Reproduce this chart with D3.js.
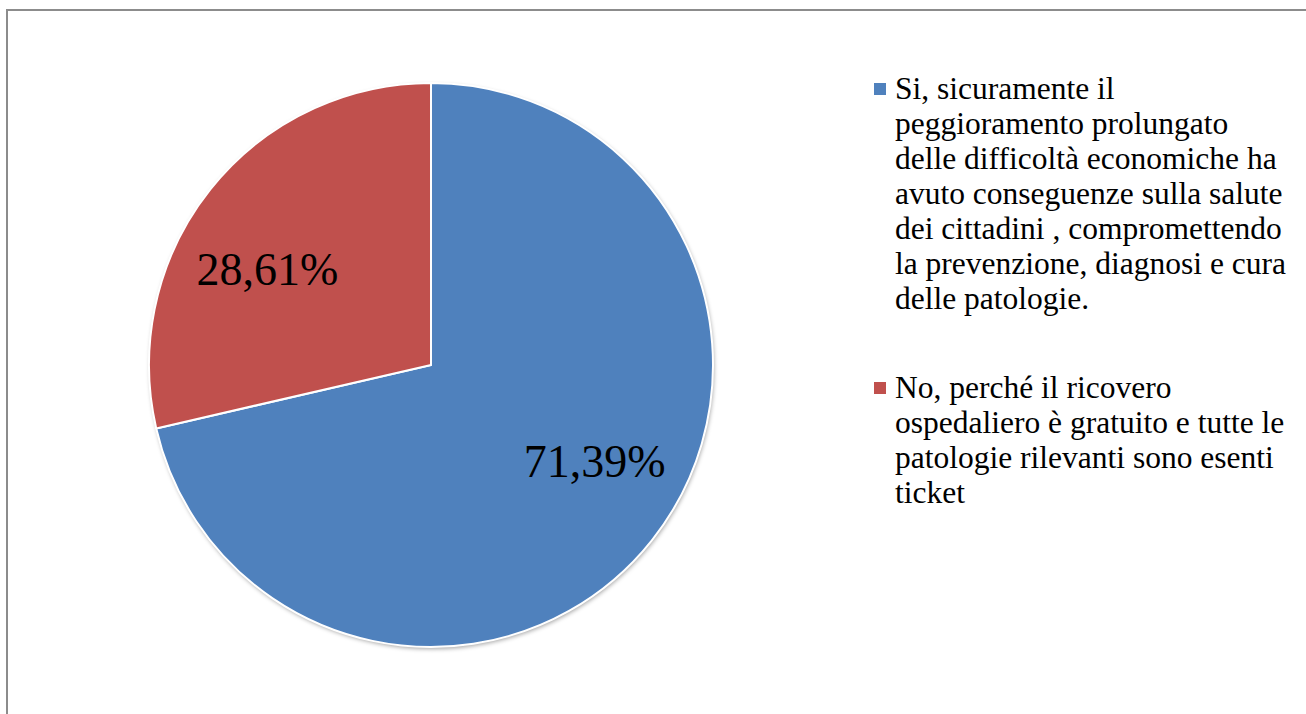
<!DOCTYPE html>
<html>
<head>
<meta charset="utf-8">
<script src="https://cdn.jsdelivr.net/npm/d3@7"></script>
<style>
  body { margin: 0; background: #fff; }
</style>
</head>
<body>
<script>
// risposte e percentuali
var categories = [
    "Si, sicuramente il peggioramento prolungato delle difficoltà economiche ha avuto conseguenze sulla salute dei cittadini , compromettendo la prevenzione, diagnosi e cura delle patologie.",
    "No, perché il ricovero ospedaliero è gratuito e tutte le patologie rilevanti sono esenti ticket"
];
var values = [71.39, 28.61];
var valueLabels = ["71,39%", "28,61%"];
var colors = ["#4f81bd", "#c0504d"];

var width = 1306,
    height = 714,
    serif = "'Liberation Serif', 'Times New Roman', serif";

var svg = d3.select("body").append("svg")
    .attr("width", width)
    .attr("height", height);

var defs = svg.append("defs");
var shadow = defs.append("filter").attr("id", "shadow")
    .attr("x", "-10%").attr("y", "-10%").attr("width", "120%").attr("height", "120%");
shadow.append("feDropShadow")
    .attr("dx", 1).attr("dy", 2).attr("stdDeviation", 2)
    .attr("flood-color", "#000").attr("flood-opacity", 0.35);

// chart border (only top and left visible)
svg.append("rect")
    .attr("x", 7).attr("y", 10)
    .attr("width", width + 20).attr("height", height + 20)
    .attr("fill", "none")
    .attr("stroke", "#8c8c8c")
    .attr("stroke-width", 2);

var cx = 431, cy = 365, r = 282;

var pie = d3.pie().sort(null).value(function(d) { return d; });
var arc = d3.arc().innerRadius(0).outerRadius(r);

var g = svg.append("g").attr("transform", "translate(" + cx + "," + cy + ")");

g.append("circle").attr("r", r).attr("fill", "#fff").attr("filter", "url(#shadow)");

var arcs = pie(values);

g.selectAll(".slice")
    .data(arcs)
  .enter().append("path")
    .attr("class", "slice")
    .attr("d", arc)
    .attr("fill", function(d, i) { return colors[i]; })
    .attr("stroke", "#fff")
    .attr("stroke-width", 2)
    .attr("stroke-linejoin", "round");

// labels inside slices (a bit rotated back, like excel does)
var labelR = 190,
    labelShift = -8 * Math.PI / 180;
g.selectAll(".lbl")
    .data(arcs)
  .enter().append("text")
    .attr("class", "lbl")
    .attr("transform", function(d) {
        var a = (d.startAngle + d.endAngle) / 2 + labelShift;
        var x = Math.sin(a) * labelR,
            y = -Math.cos(a) * labelR;
        return "translate(" + x + "," + (y + 16) + ")";
    })
    .attr("text-anchor", "middle")
    .attr("font-family", serif)
    .attr("font-size", "46px")
    .attr("fill", "#000")
    .text(function(d, i) { return valueLabels[i]; });

// legend
var legX = 874,
    legY = [99, 398],
    lineH = 35,
    maxW = 397;

var legend = svg.append("g").attr("class", "legend");

categories.forEach(function(cat, i) {
    legend.append("rect")
        .attr("x", legX).attr("y", legY[i] - 16)
        .attr("width", 12).attr("height", 12)
        .attr("fill", colors[i]);

    var t = legend.append("text")
        .attr("x", legX + 21).attr("y", legY[i])
        .attr("font-family", serif)
        .attr("font-size", "31.5px")
        .attr("fill", "#000");

    var words = cat.split(" "),
        line = [],
        n = 0,
        tspan = t.append("tspan").attr("x", legX + 21).attr("y", legY[i]);
    words.forEach(function(w) {
        line.push(w);
        tspan.text(line.join(" "));
        if (tspan.node().getComputedTextLength() > maxW && line.length > 1) {
            line.pop();
            tspan.text(line.join(" "));
            line = [w];
            n++;
            tspan = t.append("tspan")
                .attr("x", legX + 21)
                .attr("y", legY[i] + n * lineH)
                .text(w);
        }
    });
});
</script>
</body>
</html>
